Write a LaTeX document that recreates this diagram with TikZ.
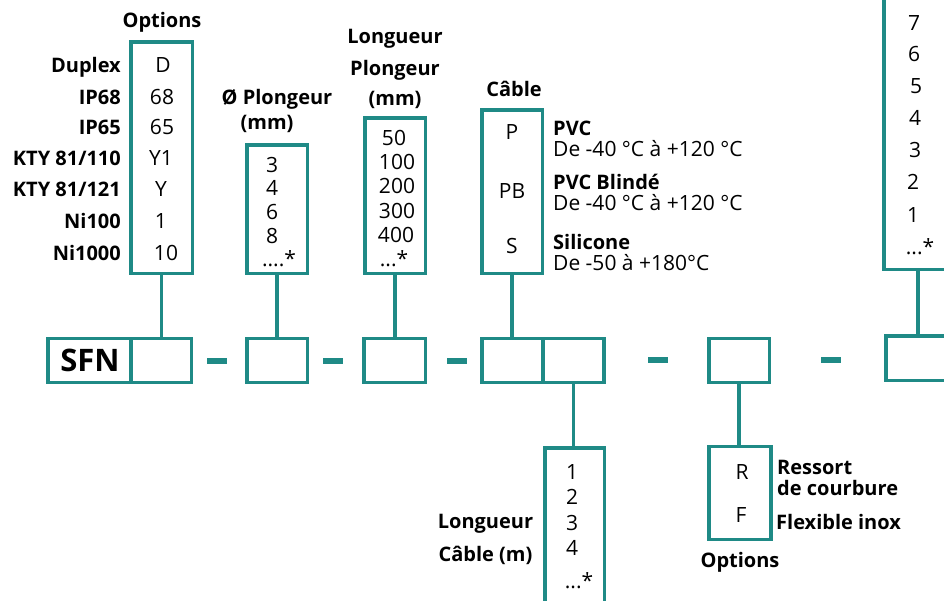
\documentclass[tikz,border=0pt]{standalone}
\usepackage{fontspec}
\setmainfont{Open Sans}
\usetikzlibrary{positioning}
\definecolor{sfnteal}{HTML}{1F8A86}

\begin{document}
\begin{tikzpicture}[x=1pt, y=-1pt,
    box/.style={draw=sfnteal, line width=3.5pt, inner sep=0pt},
    val/.style={font=\fontsize{21}{24}\selectfont, text height=15pt, text depth=0pt, inner sep=0pt},
    lbl/.style={val, font=\bfseries\fontsize{20}{23}\selectfont, text height=14.3pt},
    link/.style={draw=sfnteal, line width=3.5pt}]
  \path[use as bounding box, clip] (0,0) rectangle (944,600);
  % reference row
  \node[box, minimum width=83pt, minimum height=44pt] (sfn) at (89.5,360.5) {};
  \node[font=\bfseries\fontsize{31}{34}\selectfont, text height=22pt, text depth=0pt, inner sep=0pt] (sfntxt) at (90,360.5) {SFN};
  \node[box, minimum width=60.5pt, minimum height=44pt] (sfnv) at (161.25,360.5) {};
  \node[box, minimum width=60.5pt, minimum height=44pt] (dia) at (277,360.5) {};
  \node[box, minimum width=61.5pt, minimum height=44pt] (lpl) at (394.5,360.5) {};
  \node[box, minimum width=61.25pt, minimum height=44pt] (cab) at (512.4,360.5) {};
  \node[box, minimum width=61.25pt, minimum height=44pt] (lcab) at (573.6,360.5) {};
  \node[box, minimum width=60.5pt, minimum height=44pt] (opt) at (739,360.5) {};
  \node[box, minimum width=64pt, minimum height=44.5pt] (sens) at (918,358) {};
  \foreach \x/\y in {207/361, 323/361, 447/361, 648/360, 821/360}
    \fill[sfnteal] (\x,\y-3) rectangle (\x+20,\y+3);
  % option boxes above
  \node[box, minimum width=61.5pt, minimum height=231.5pt] (optbox) at (161.5,157.5) {};
  \node[box, minimum width=60.5pt, minimum height=128.5pt] (diabox) at (277,209) {};
  \node[box, minimum width=60.5pt, minimum height=155.5pt] (lplbox) at (395,195.5) {};
  \node[box, minimum width=60.5pt, minimum height=163.5pt] (cabbox) at (512,191.5) {};
  \node[box, minimum width=68.5pt, minimum height=277.5pt] (sensbox) at (918,130.5) {};
  % option boxes below
  \node[box, minimum width=59.5pt, minimum height=160.5pt] (lcabbox) at (574.5,528) {};
  \node[box, minimum width=62pt, minimum height=93pt] (roptbox) at (740,493) {};
  \draw[link] (optbox.south) -- (optbox.south |- sfnv.north);
  \draw[link] (diabox.south) -- (diabox.south |- dia.north);
  \draw[link] (lplbox.south) -- (lplbox.south |- lpl.north);
  \draw[link] (cabbox.south) -- (cabbox.south |- cab.north);
  \draw[link] (sensbox.south) -- (sensbox.south |- sens.north);
  \draw[link] (lcab.south) -- (lcab.south |- lcabbox.north);
  \draw[link] (opt.south) -- (opt.south |- roptbox.north);
  % titles
  \node[lbl] (t-opt) at (162,20) {Options};
  \node[lbl] (t-dia1) at (277,97) {Ø Plongeur};
  \node[lbl] (t-dia2) at (267,122) {(mm)};
  \node[lbl] (t-lpl1) at (395,36) {Longueur};
  \node[lbl] (t-lpl2) at (395,68) {Plongeur};
  \node[lbl] (t-lpl3) at (395,98) {(mm)};
  \node[lbl] (t-cab) at (514,89) {Câble};
  \node[lbl] (t-lcab1) at (485.5,521) {Longueur};
  \node[lbl] (t-lcab2) at (485.5,554) {Câble (m)};
  \node[lbl] (t-ropt) at (740,560) {Options};
  % options: label, code
  \foreach \t/\v/\x/\y [count=\i] in {Duplex/D/163/65, IP68/68/162/97, IP65/65/162/127,
      {KTY 81/110}/Y1/161/158, {KTY 81/121}/Y/161/189, Ni100/1/161/221, Ni1000/10/166/253} {
    \node[lbl, anchor=east] (ol-\i) at (121,\y) {\t};
    \node[val] (ov-\i) at (\x,\y) {\v};
  }
  % value lists (the trailing ...* set apart)
  \foreach \v/\x/\y [count=\i] in {3/272/165, 4/272/188, 6/272/212, 8/272/236}
    \node[val] (dv-\i) at (\x,\y) {\v};
  \node[val] (dv-more) at (279,259) {....*};
  \foreach \v/\x/\y [count=\i] in {50/394/138, 100/397/162, 200/397/186, 300/397/211, 400/396/235}
    \node[val] (pv-\i) at (\x,\y) {\v};
  \node[val] (pv-more) at (394,259) {...*};
  \foreach \v/\y [count=\i] in {P/132, PB/191, S/246}
    \node[val] (cv-\i) at (512,\y) {\v};
  \foreach \t/\r/\y [count=\i] in {PVC/{De -40 °C à +120 °C}/128, PVC Blindé/{De -40 °C à +120 °C}/182, Silicone/{De -50 à +180°C}/242} {
    \node[lbl, anchor=west] (cl-\i) at (553,\y) {\t};
    \node[val, anchor=west] (cr-\i) at (553,\y+21) {\r};
  }
  \foreach \v/\x/\y [count=\i] in {7/914/23, 6/914/54, 5/916/86, 4/915/118, 3/915/150, 2/913/182, 1/913/215}
    \node[val] (sv-\i) at (\x,\y) {\v};
  \node[val] (sv-more) at (920,247) {...*};
  \foreach \v/\x/\y [count=\i] in {1/572/472, 2/572/497, 3/572/523, 4/572/548}
    \node[val] (lv-\i) at (\x,\y) {\v};
  \node[val] (lv-more) at (579,581) {...*};
  \node[val] (rv-1) at (742,472) {R};
  \node[val] (rv-2) at (741,515) {F};
  \node[lbl, anchor=west] (rl-1) at (777,467) {Ressort};
  \node[lbl, anchor=west] (rl-2) at (777,488) {de courbure};
  \node[lbl, anchor=west] (rl-3) at (776,522) {Flexible inox};
\end{tikzpicture}
\end{document}
